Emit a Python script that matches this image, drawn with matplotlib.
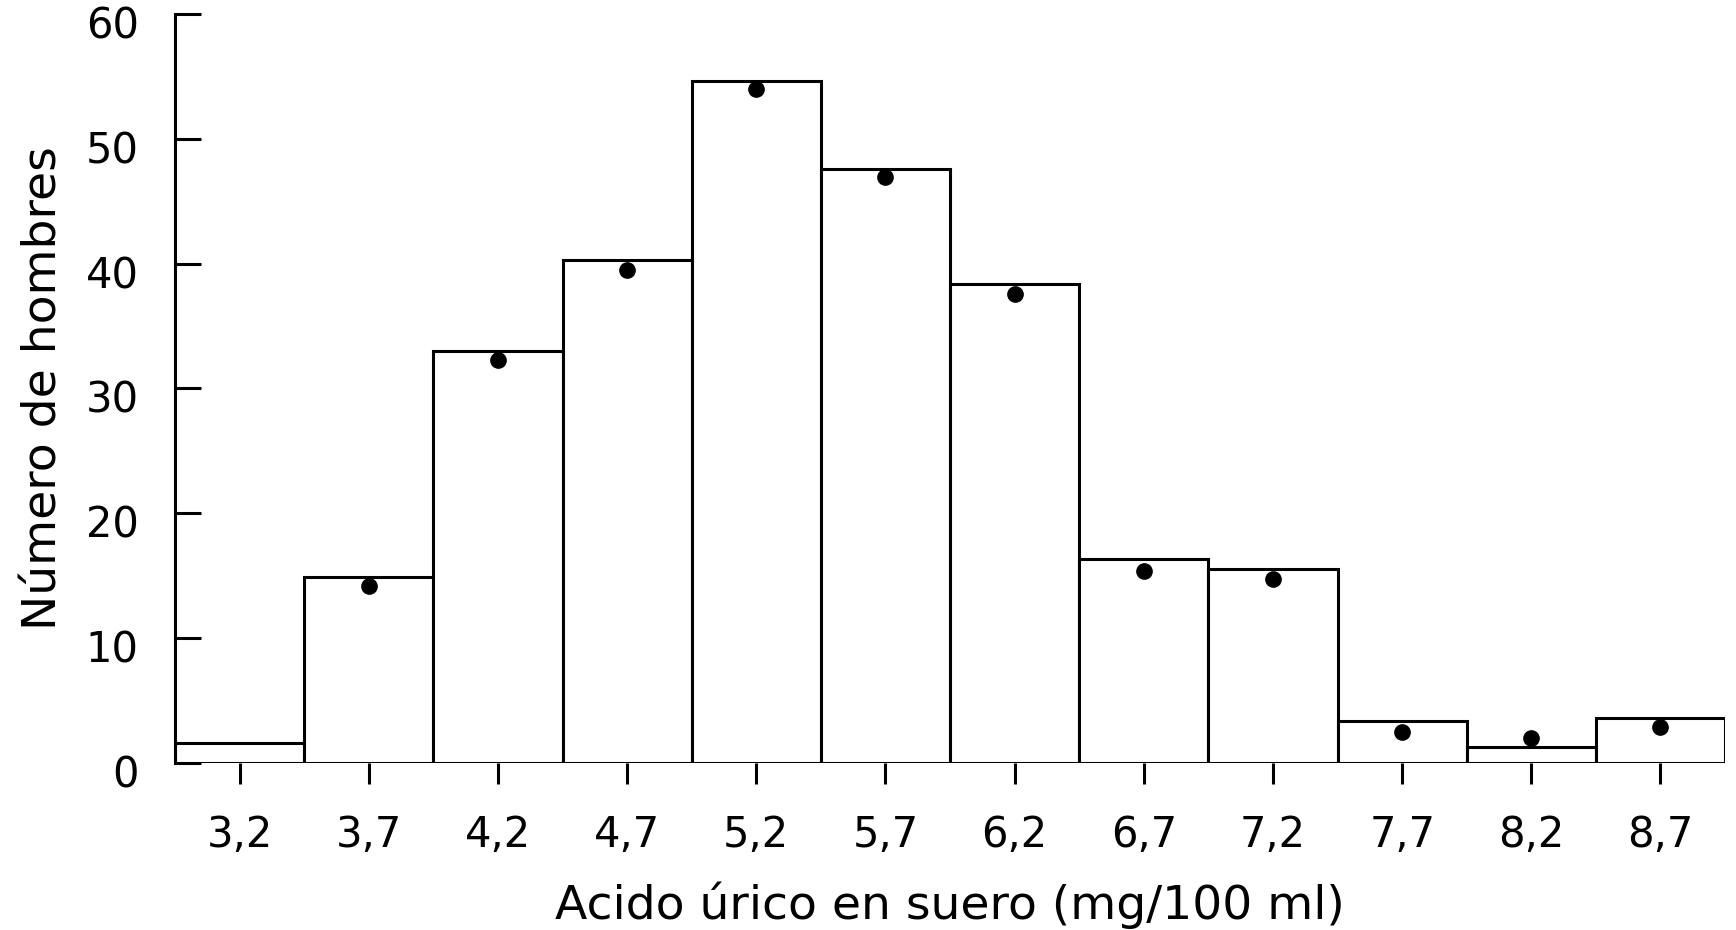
import matplotlib
matplotlib.use('Agg')
import matplotlib.pyplot as plt
import matplotlib.transforms as mtransforms
import numpy as np

# acido urico (mg/100 ml), centros de clase
centros = [3.2, 3.7, 4.2, 4.7, 5.2, 5.7, 6.2, 6.7, 7.2, 7.7, 8.2, 8.7]
etiquetas = ['3,2', '3,7', '4,2', '4,7', '5,2', '5,7', '6,2', '6,7', '7,2', '7,7', '8,2', '8,7']
# numero de hombres observado (barras)
observado = [1.6, 14.9, 33.0, 40.3, 54.6, 47.6, 38.4, 16.3, 15.5, 3.4, 1.3, 3.6]
# valores esperados (puntos), sin punto en la primera clase
centros_esp = [3.7, 4.2, 4.7, 5.2, 5.7, 6.2, 6.7, 7.2, 7.7, 8.2, 8.7]
esperado = [14.2, 32.3, 39.5, 54.0, 46.9, 37.6, 15.4, 14.7, 2.5, 2.0, 2.9]
yticks = [0, 10, 20, 30, 40, 50, 60]

plt.rcParams['font.family'] = ['DejaVu Sans']
fig = plt.figure(figsize=(17.36, 9.3), dpi=100)
ax = fig.add_axes([0.1008, 0.1796, 0.8929, 0.8054])

ax.bar(centros, observado, width=0.5, align='center', facecolor='white',
       edgecolor='black', linewidth=2.2, zorder=2)
ax.plot(centros_esp, esperado, 'o', color='black', markersize=11, zorder=3)

ax.set_xlim(2.95, 8.95)
ax.set_ylim(0, 60)
ax.set_yticks(yticks)
ax.set_yticklabels([str(v) for v in yticks], fontsize=30)
ax.set_xticks(centros)
ax.set_xticklabels(etiquetas, fontsize=30)

for s in ['top', 'right', 'bottom']:
    ax.spines[s].set_visible(False)
ax.spines['left'].set_linewidth(2.2)
ax.tick_params(axis='y', direction='in', length=19, width=2.2, pad=26)
ax.tick_params(axis='x', direction='out', length=15, width=2.2, pad=22)

# las cifras del eje y quedan un poco por debajo de su marca
off = mtransforms.ScaledTranslation(0, -8 / 100, fig.dpi_scale_trans)
for lab in ax.get_yticklabels():
    lab.set_transform(lab.get_transform() + off)

ax.set_ylabel('Número de hombres', fontsize=34, labelpad=14)
ax.set_xlabel('Acido úrico en suero (mg/100 ml)', fontsize=34, labelpad=18)

fig.savefig('out.png', dpi=100, facecolor='white')
